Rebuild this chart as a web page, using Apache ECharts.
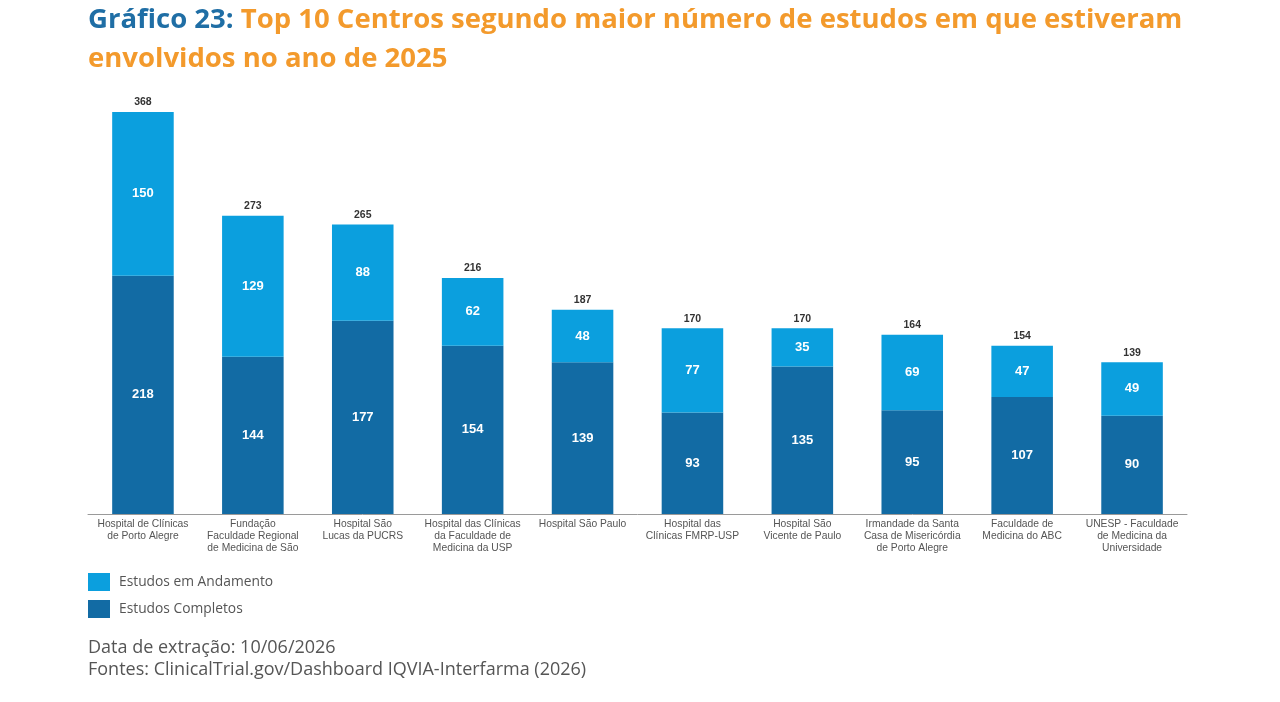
<!DOCTYPE html>
<html>
<head>
<meta charset="utf-8">
<script src="https://cdn.jsdelivr.net/npm/echarts@6/dist/echarts.min.js"></script>
<style>
  html, body { margin: 0; padding: 0; background: #fff; }
  #chart { width: 1280px; height: 702px; }
</style>
</head>
<body>
<div id="chart"></div>
<script>
var categories = [
    'Hospital de Clínicas\nde Porto Alegre',
    'Fundação\nFaculdade Regional\nde Medicina de São',
    'Hospital São\nLucas da PUCRS',
    'Hospital das Clínicas\nda Faculdade de\nMedicina da USP',
    'Hospital São Paulo',
    'Hospital das\nClínicas FMRP-USP',
    'Hospital São\nVicente de Paulo',
    'Irmandade da Santa\nCasa de Misericórdia\nde Porto Alegre',
    'Faculdade de\nMedicina do ABC',
    'UNESP - Faculdade\nde Medicina da\nUniversidade'
];
var completos = [218, 144, 177, 154, 139, 93, 135, 95, 107, 90];
var andamento = [150, 129, 88, 62, 48, 77, 35, 69, 47, 49];
var totais = [368, 273, 265, 216, 187, 170, 170, 164, 154, 139];

var myChart = echarts.init(document.getElementById('chart'));

option = {
    backgroundColor: '#fff',
    title: {
        text: '{a|Gráfico 23: }{b|Top 10 Centros segundo maior número de estudos em que estiveram}\n{b|envolvidos no ano de 2025}',
        left: 83,
        top: -4,
        textStyle: {
            rich: {
                a: { fontFamily: 'Open Sans', fontWeight: 'bold', fontSize: 27.5, color: '#1f6ea5', lineHeight: 39 },
                b: { fontFamily: 'Open Sans', fontWeight: 'bold', fontSize: 27.5, color: '#f39a2c', lineHeight: 39 }
            }
        }
    },
    legend: {
        orient: 'vertical',
        left: 83,
        top: 568,
        itemWidth: 22,
        itemHeight: 18,
        itemGap: 9,
        icon: 'rect',
        data: ['Estudos em Andamento', 'Estudos Completos'],
        textStyle: { fontFamily: 'Open Sans', fontSize: 13.8, color: '#555', padding: [0, 0, 0, 4] }
    },
    grid: { left: 88, right: 93, top: 77, bottom: 188 },
    xAxis: {
        type: 'category',
        data: categories,
        axisLine: { lineStyle: { color: '#9a9a9a', width: 1 } },
        axisTick: { show: false },
        axisLabel: {
            interval: 0,
            fontFamily: 'Liberation Sans',
            fontSize: 10.3,
            lineHeight: 12,
            color: '#555',
            margin: 4
        }
    },
    yAxis: { type: 'value', min: 0, max: 400, show: false, splitLine: { show: false } },
    series: [
        {
            name: 'Estudos Completos',
            type: 'bar',
            stack: 'total',
            barCategoryGap: '44%',
            data: completos,
            itemStyle: { color: '#126ba4' },
            label: { show: true, position: 'inside', color: '#fff', fontWeight: 'bold', fontSize: 13, fontFamily: 'Liberation Sans' }
        },
        {
            name: 'Estudos em Andamento',
            type: 'bar',
            stack: 'total',
            data: andamento,
            itemStyle: { color: '#0b9fde' },
            label: { show: true, position: 'inside', color: '#fff', fontWeight: 'bold', fontSize: 13, fontFamily: 'Liberation Sans' }
        },
        {
            name: 'Total',
            type: 'bar',
            stack: 'total',
            data: totais.map(function () { return 0; }),
            itemStyle: { color: 'transparent' },
            label: {
                show: true,
                position: 'top',
                distance: 4,
                color: '#333',
                fontWeight: 'bold',
                fontSize: 10.5,
                fontFamily: 'Liberation Sans',
                formatter: function (p) { return totais[p.dataIndex]; }
            }
        }
    ],
    graphic: [
        {
            type: 'text',
            left: 88,
            top: 637,
            style: {
                text: 'Data de extração: 10/06/2026\nFontes: ClinicalTrial.gov/Dashboard IQVIA-Interfarma (2026)',
                font: '18px "Open Sans"',
                lineHeight: 22,
                fill: '#555'
            }
        }
    ]
};

myChart.setOption(option);
</script>
</body>
</html>
